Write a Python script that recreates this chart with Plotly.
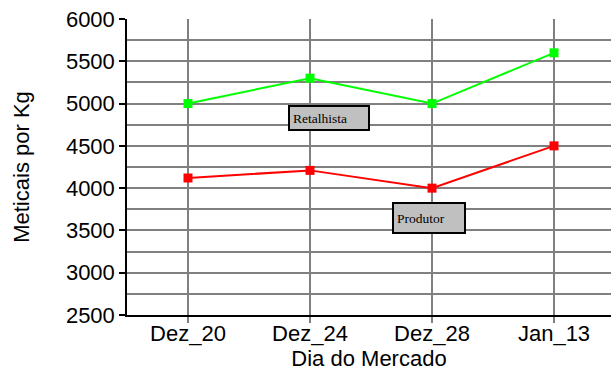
import plotly.graph_objects as go

categories = ["Dez_20", "Dez_24", "Dez_28", "Jan_13"]
retalhista = [5000, 5300, 5000, 5600]
produtor = [4120, 4210, 4000, 4500]

fig = go.Figure()
fig.add_trace(go.Scatter(x=categories, y=retalhista, mode="lines+markers",
                         line=dict(color="#00ff00", width=2),
                         marker=dict(symbol="square", size=9, color="#00ff00"),
                         showlegend=False))
fig.add_trace(go.Scatter(x=categories, y=produtor, mode="lines+markers",
                         line=dict(color="#ff0000", width=2),
                         marker=dict(symbol="square", size=9, color="#ff0000"),
                         showlegend=False))

ann_font = dict(family="Liberation Serif", size=13.5, color="black")
fig.add_annotation(x=1.156, y=4835, text="Retalhista", showarrow=False,
                   font=ann_font, bgcolor="#c0c0c0", bordercolor="black",
                   borderwidth=2, borderpad=3, width=72, height=16, align="left")
fig.add_annotation(x=1.975, y=3647, text="Produtor", showarrow=False,
                   font=ann_font, bgcolor="#c0c0c0", bordercolor="black",
                   borderwidth=2, borderpad=3, width=64, height=22, align="left")

fig.update_layout(
    width=611, height=372,
    margin=dict(l=127, r=0, t=19, b=57),
    paper_bgcolor="white", plot_bgcolor="white",
    font=dict(family="Liberation Sans, Arial", size=22, color="black"),
    xaxis=dict(
        type="category", range=[-0.5, 3.467],
        showgrid=True, gridcolor="#808080", gridwidth=1.5,
        showline=True, linecolor="black", linewidth=1.5,
        ticks="outside", ticklen=6, tickcolor="#808080", tickwidth=1.5,
        ticklabelstandoff=-8,
        title=dict(text="Dia do Mercado", standoff=2, font=dict(size=22)),
        tickfont=dict(size=22),
    ),
    yaxis=dict(
        range=[2500, 6000], dtick=500, tick0=2500,
        showgrid=True, gridcolor="#808080", gridwidth=1.5,
        minor=dict(dtick=250, showgrid=True, gridcolor="#808080", gridwidth=1.5),
        showline=True, linecolor="black", linewidth=1.5,
        ticks="outside", ticklen=6, tickcolor="black", tickwidth=1.5,
        title=dict(text="Meticais por Kg", standoff=30, font=dict(size=22)),
        tickfont=dict(size=22), zeroline=False,
    ),
)

fig.write_html("out.html")
